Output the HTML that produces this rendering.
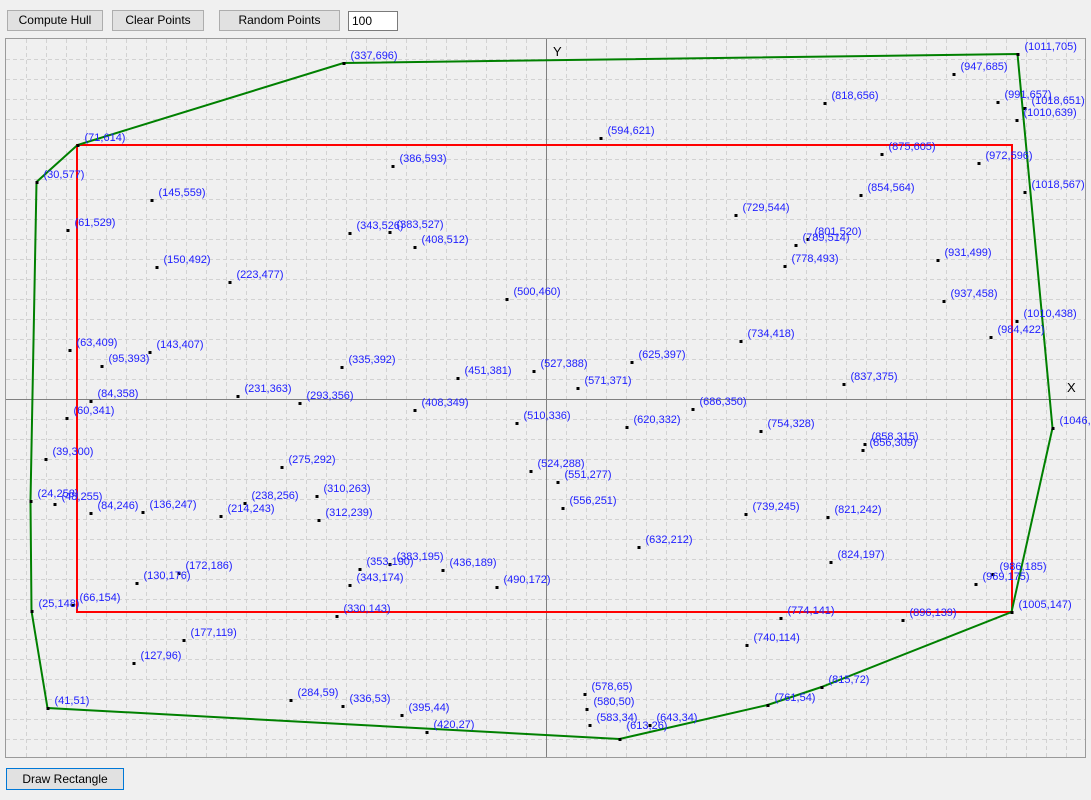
<!DOCTYPE html>
<html><head><meta charset="utf-8"><style>
body{margin:0;width:1091px;height:800px;background:#f0f0f0;font-family:"Liberation Sans",sans-serif;position:relative;overflow:hidden}
.b{position:absolute;background:#e1e1e1;border:1px solid #adadad;font-size:12px;text-align:center;box-sizing:border-box;line-height:19px;color:#000}
</style></head><body>
<div class="b" style="left:7px;top:10px;width:96px;height:21px">Compute Hull</div>
<div class="b" style="left:112px;top:10px;width:92px;height:21px">Clear Points</div>
<div class="b" style="left:219px;top:10px;width:121px;height:21px">Random Points</div>
<div style="position:absolute;left:348px;top:11px;width:50px;height:20px;background:#fff;border:1px solid #7a7a7a;box-sizing:border-box;font-size:12px;line-height:18px;padding-left:3px">100</div>
<div class="b" style="left:6px;top:768px;width:118px;height:22px;border:1px solid #0078d7;line-height:20px">Draw Rectangle</div>
<svg width="1091" height="800" style="position:absolute;left:0;top:0">
<defs><clipPath id="c"><rect x="6" y="39" width="1079" height="718"/></clipPath></defs>
<rect x="5.5" y="38.5" width="1080" height="719" fill="#f0f0f0" stroke="#9a9a9a"/>
<g clip-path="url(#c)" stroke="#d2d2d2" stroke-dasharray="4,3" stroke-width="1">
<path d="M26.5 39V757M46.5 39V757M66.5 39V757M86.5 39V757M106.5 39V757M126.5 39V757M146.5 39V757M166.5 39V757M186.5 39V757M206.5 39V757M226.5 39V757M246.5 39V757M266.5 39V757M286.5 39V757M306.5 39V757M326.5 39V757M346.5 39V757M366.5 39V757M386.5 39V757M406.5 39V757M426.5 39V757M446.5 39V757M466.5 39V757M486.5 39V757M506.5 39V757M526.5 39V757M566.5 39V757M586.5 39V757M606.5 39V757M626.5 39V757M646.5 39V757M666.5 39V757M686.5 39V757M706.5 39V757M726.5 39V757M746.5 39V757M766.5 39V757M786.5 39V757M806.5 39V757M826.5 39V757M846.5 39V757M866.5 39V757M886.5 39V757M906.5 39V757M926.5 39V757M946.5 39V757M966.5 39V757M986.5 39V757M1006.5 39V757M1026.5 39V757M1046.5 39V757M1066.5 39V757"/>
<path d="M6 59.5H1085M6 79.5H1085M6 99.5H1085M6 119.5H1085M6 139.5H1085M6 159.5H1085M6 179.5H1085M6 199.5H1085M6 219.5H1085M6 239.5H1085M6 259.5H1085M6 279.5H1085M6 299.5H1085M6 319.5H1085M6 339.5H1085M6 359.5H1085M6 379.5H1085M6 419.5H1085M6 439.5H1085M6 459.5H1085M6 479.5H1085M6 499.5H1085M6 519.5H1085M6 539.5H1085M6 559.5H1085M6 579.5H1085M6 599.5H1085M6 619.5H1085M6 639.5H1085M6 659.5H1085M6 679.5H1085M6 699.5H1085M6 719.5H1085M6 739.5H1085"/>
</g>
<path d="M546.5 39V757M6 399.5H1085" stroke="#808080" stroke-width="1"/>
<text x="553" y="56" font-size="13" fill="#000">Y</text>
<text x="1067" y="392" font-size="13" fill="#000">X</text>
<rect x="77" y="145" width="935" height="467" fill="none" stroke="#f00" stroke-width="2"/>
<g transform="translate(6.5,759)">
<polygon points="41,-51 25,-148 24,-258 30,-577 71,-614 337,-696 1011,-705 1046,-331 1005,-147 815,-72 761,-54 613,-20" fill="none" stroke="#008000" stroke-width="2"/>
<g fill="#000">
<rect x="336" y="-697" width="3" height="3"/><rect x="1010" y="-706" width="3" height="3"/><rect x="946" y="-686" width="3" height="3"/><rect x="817" y="-657" width="3" height="3"/><rect x="990" y="-658" width="3" height="3"/><rect x="1017" y="-652" width="3" height="3"/><rect x="1009" y="-640" width="3" height="3"/><rect x="593" y="-622" width="3" height="3"/><rect x="70" y="-615" width="3" height="3"/><rect x="874" y="-606" width="3" height="3"/><rect x="971" y="-597" width="3" height="3"/><rect x="385" y="-594" width="3" height="3"/><rect x="29" y="-578" width="3" height="3"/><rect x="1017" y="-568" width="3" height="3"/><rect x="144" y="-560" width="3" height="3"/><rect x="853" y="-565" width="3" height="3"/><rect x="728" y="-545" width="3" height="3"/><rect x="60" y="-530" width="3" height="3"/><rect x="342" y="-527" width="3" height="3"/><rect x="382" y="-528" width="3" height="3"/><rect x="407" y="-513" width="3" height="3"/><rect x="800" y="-521" width="3" height="3"/><rect x="788" y="-515" width="3" height="3"/><rect x="149" y="-493" width="3" height="3"/><rect x="777" y="-494" width="3" height="3"/><rect x="930" y="-500" width="3" height="3"/><rect x="222" y="-478" width="3" height="3"/><rect x="499" y="-461" width="3" height="3"/><rect x="936" y="-459" width="3" height="3"/><rect x="1009" y="-439" width="3" height="3"/><rect x="983" y="-423" width="3" height="3"/><rect x="62" y="-410" width="3" height="3"/><rect x="142" y="-408" width="3" height="3"/><rect x="94" y="-394" width="3" height="3"/><rect x="733" y="-419" width="3" height="3"/><rect x="334" y="-393" width="3" height="3"/><rect x="450" y="-382" width="3" height="3"/><rect x="526" y="-389" width="3" height="3"/><rect x="624" y="-398" width="3" height="3"/><rect x="570" y="-372" width="3" height="3"/><rect x="836" y="-376" width="3" height="3"/><rect x="83" y="-359" width="3" height="3"/><rect x="59" y="-342" width="3" height="3"/><rect x="230" y="-364" width="3" height="3"/><rect x="292" y="-357" width="3" height="3"/><rect x="407" y="-350" width="3" height="3"/><rect x="509" y="-337" width="3" height="3"/><rect x="619" y="-333" width="3" height="3"/><rect x="685" y="-351" width="3" height="3"/><rect x="753" y="-329" width="3" height="3"/><rect x="857" y="-316" width="3" height="3"/><rect x="855" y="-310" width="3" height="3"/><rect x="1045" y="-332" width="3" height="3"/><rect x="38" y="-301" width="3" height="3"/><rect x="274" y="-293" width="3" height="3"/><rect x="523" y="-289" width="3" height="3"/><rect x="550" y="-278" width="3" height="3"/><rect x="23" y="-259" width="3" height="3"/><rect x="47" y="-256" width="3" height="3"/><rect x="83" y="-247" width="3" height="3"/><rect x="135" y="-248" width="3" height="3"/><rect x="237" y="-257" width="3" height="3"/><rect x="213" y="-244" width="3" height="3"/><rect x="309" y="-264" width="3" height="3"/><rect x="311" y="-240" width="3" height="3"/><rect x="555" y="-252" width="3" height="3"/><rect x="738" y="-246" width="3" height="3"/><rect x="820" y="-243" width="3" height="3"/><rect x="631" y="-213" width="3" height="3"/><rect x="823" y="-198" width="3" height="3"/><rect x="171" y="-187" width="3" height="3"/><rect x="129" y="-177" width="3" height="3"/><rect x="352" y="-191" width="3" height="3"/><rect x="382" y="-196" width="3" height="3"/><rect x="435" y="-190" width="3" height="3"/><rect x="342" y="-175" width="3" height="3"/><rect x="489" y="-173" width="3" height="3"/><rect x="985" y="-186" width="3" height="3"/><rect x="968" y="-176" width="3" height="3"/><rect x="24" y="-149" width="3" height="3"/><rect x="65" y="-155" width="3" height="3"/><rect x="329" y="-144" width="3" height="3"/><rect x="773" y="-142" width="3" height="3"/><rect x="895" y="-140" width="3" height="3"/><rect x="1004" y="-148" width="3" height="3"/><rect x="176" y="-120" width="3" height="3"/><rect x="739" y="-115" width="3" height="3"/><rect x="126" y="-97" width="3" height="3"/><rect x="814" y="-73" width="3" height="3"/><rect x="760" y="-55" width="3" height="3"/><rect x="283" y="-60" width="3" height="3"/><rect x="335" y="-54" width="3" height="3"/><rect x="394" y="-45" width="3" height="3"/><rect x="419" y="-28" width="3" height="3"/><rect x="40" y="-52" width="3" height="3"/><rect x="577" y="-66" width="3" height="3"/><rect x="579" y="-51" width="3" height="3"/><rect x="582" y="-35" width="3" height="3"/><rect x="642" y="-35" width="3" height="3"/><rect x="612" y="-21" width="3" height="3"/>
</g></g>
<g transform="translate(13.5,755)" font-size="11" fill="#2020ff">
<text x="337" y="-696">(337,696)</text><text x="1011" y="-705">(1011,705)</text><text x="947" y="-685">(947,685)</text><text x="818" y="-656">(818,656)</text><text x="991" y="-657">(991,657)</text><text x="1018" y="-651">(1018,651)</text><text x="1010" y="-639">(1010,639)</text><text x="594" y="-621">(594,621)</text><text x="71" y="-614">(71,614)</text><text x="875" y="-605">(875,605)</text><text x="972" y="-596">(972,596)</text><text x="386" y="-593">(386,593)</text><text x="30" y="-577">(30,577)</text><text x="1018" y="-567">(1018,567)</text><text x="145" y="-559">(145,559)</text><text x="854" y="-564">(854,564)</text><text x="729" y="-544">(729,544)</text><text x="61" y="-529">(61,529)</text><text x="343" y="-526">(343,526)</text><text x="383" y="-527">(383,527)</text><text x="408" y="-512">(408,512)</text><text x="801" y="-520">(801,520)</text><text x="789" y="-514">(789,514)</text><text x="150" y="-492">(150,492)</text><text x="778" y="-493">(778,493)</text><text x="931" y="-499">(931,499)</text><text x="223" y="-477">(223,477)</text><text x="500" y="-460">(500,460)</text><text x="937" y="-458">(937,458)</text><text x="1010" y="-438">(1010,438)</text><text x="984" y="-422">(984,422)</text><text x="63" y="-409">(63,409)</text><text x="143" y="-407">(143,407)</text><text x="95" y="-393">(95,393)</text><text x="734" y="-418">(734,418)</text><text x="335" y="-392">(335,392)</text><text x="451" y="-381">(451,381)</text><text x="527" y="-388">(527,388)</text><text x="625" y="-397">(625,397)</text><text x="571" y="-371">(571,371)</text><text x="837" y="-375">(837,375)</text><text x="84" y="-358">(84,358)</text><text x="60" y="-341">(60,341)</text><text x="231" y="-363">(231,363)</text><text x="293" y="-356">(293,356)</text><text x="408" y="-349">(408,349)</text><text x="510" y="-336">(510,336)</text><text x="620" y="-332">(620,332)</text><text x="686" y="-350">(686,350)</text><text x="754" y="-328">(754,328)</text><text x="858" y="-315">(858,315)</text><text x="856" y="-309">(856,309)</text><text x="1046" y="-331">(1046,331)</text><text x="39" y="-300">(39,300)</text><text x="275" y="-292">(275,292)</text><text x="524" y="-288">(524,288)</text><text x="551" y="-277">(551,277)</text><text x="24" y="-258">(24,258)</text><text x="48" y="-255">(48,255)</text><text x="84" y="-246">(84,246)</text><text x="136" y="-247">(136,247)</text><text x="238" y="-256">(238,256)</text><text x="214" y="-243">(214,243)</text><text x="310" y="-263">(310,263)</text><text x="312" y="-239">(312,239)</text><text x="556" y="-251">(556,251)</text><text x="739" y="-245">(739,245)</text><text x="821" y="-242">(821,242)</text><text x="632" y="-212">(632,212)</text><text x="824" y="-197">(824,197)</text><text x="172" y="-186">(172,186)</text><text x="130" y="-176">(130,176)</text><text x="353" y="-190">(353,190)</text><text x="383" y="-195">(383,195)</text><text x="436" y="-189">(436,189)</text><text x="343" y="-174">(343,174)</text><text x="490" y="-172">(490,172)</text><text x="986" y="-185">(986,185)</text><text x="969" y="-175">(969,175)</text><text x="25" y="-148">(25,148)</text><text x="66" y="-154">(66,154)</text><text x="330" y="-143">(330,143)</text><text x="774" y="-141">(774,141)</text><text x="896" y="-139">(896,139)</text><text x="1005" y="-147">(1005,147)</text><text x="177" y="-119">(177,119)</text><text x="740" y="-114">(740,114)</text><text x="127" y="-96">(127,96)</text><text x="815" y="-72">(815,72)</text><text x="761" y="-54">(761,54)</text><text x="284" y="-59">(284,59)</text><text x="336" y="-53">(336,53)</text><text x="395" y="-44">(395,44)</text><text x="420" y="-27">(420,27)</text><text x="41" y="-51">(41,51)</text><text x="578" y="-65">(578,65)</text><text x="580" y="-50">(580,50)</text><text x="583" y="-34">(583,34)</text><text x="643" y="-34">(643,34)</text><text x="613" y="-26">(613,26)</text>
</g>
</svg>
</body></html>
